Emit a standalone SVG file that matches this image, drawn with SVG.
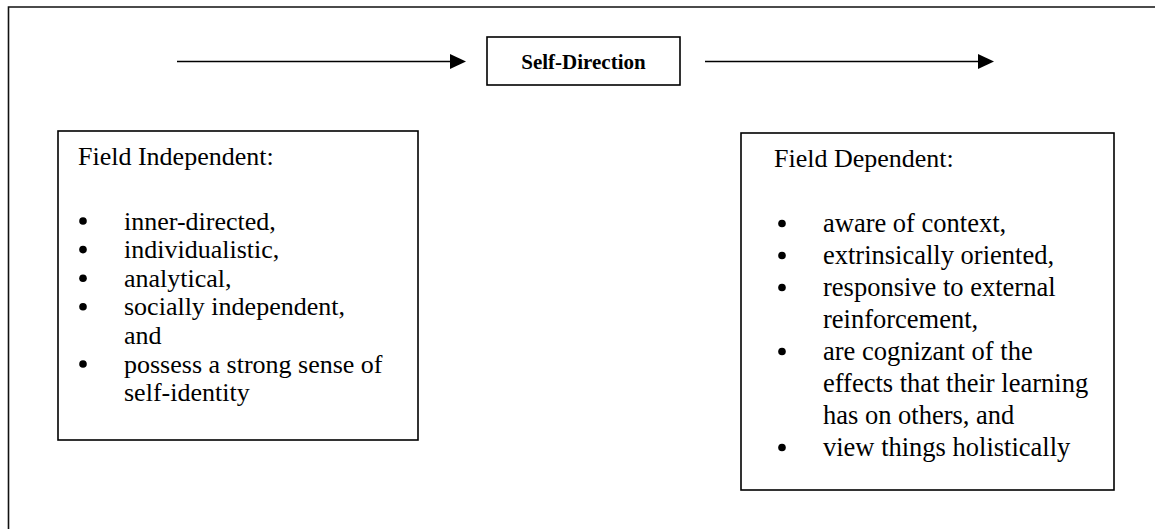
<svg xmlns="http://www.w3.org/2000/svg" width="1155" height="529" viewBox="0 0 1155 529">
<defs>
<style>
.box{fill:#fff;stroke:#000;stroke-width:1.6}
.t{font-family:"Liberation Serif","Times New Roman",serif;fill:#000}
.h{font-size:26px}
.b{font-size:26px}
.r{font-size:26.5px}
.bul{fill:#000}
.sd{font-family:"Liberation Serif","Times New Roman",serif;font-size:21px;font-weight:bold;fill:#000}
.line{stroke:#000;stroke-width:1.6;fill:none}
</style>
</defs>
<rect width="1155" height="529" fill="#fff"/>
<path d="M8.5,540 V7 H1165" fill="none" stroke="#111" stroke-width="1.6"/>
<g id="connectors">
<line class="line" x1="177" y1="61.5" x2="452" y2="61.5"/>
<path d="M450,54 L466,61.5 L450,69 Z" fill="#000"/>
<line class="line" x1="705" y1="61.5" x2="980" y2="61.5"/>
<path d="M978,54 L994,61.5 L978,69 Z" fill="#000"/>
</g>
<g id="self-direction">
<rect class="box" x="487" y="37" width="193" height="48"/>
<text class="sd" x="583.5" y="69" text-anchor="middle">Self-Direction</text>
</g>
<g id="field-independent">
<rect class="box" x="58" y="131" width="360" height="309"/>
<text class="t h" x="78" y="165">Field Independent:</text>
<g class="bul">
<circle cx="83" cy="221" r="3.8"/>
<circle cx="83" cy="249.6" r="3.8"/>
<circle cx="83" cy="278.2" r="3.8"/>
<circle cx="83" cy="306.8" r="3.8"/>
<circle cx="83" cy="364" r="3.8"/>
</g>
<g class="t b">
<text x="124" y="229.5">inner-directed,</text>
<text x="124" y="258.1">individualistic,</text>
<text x="124" y="286.7">analytical,</text>
<text x="124" y="315.3">socially independent,</text>
<text x="124" y="343.9">and</text>
<text x="124" y="372.5">possess a strong sense of</text>
<text x="124" y="401.1">self-identity</text>
</g>
</g>
<g id="field-dependent">
<rect class="box" x="741" y="133" width="373" height="357"/>
<text class="t h" x="774" y="167">Field Dependent:</text>
<g class="bul">
<circle cx="782" cy="223.5" r="3.8"/>
<circle cx="782" cy="255.5" r="3.8"/>
<circle cx="782" cy="287.5" r="3.8"/>
<circle cx="782" cy="351.5" r="3.8"/>
<circle cx="782" cy="447.5" r="3.8"/>
</g>
<g class="t r">
<text x="823" y="232">aware of context,</text>
<text x="823" y="264">extrinsically oriented,</text>
<text x="823" y="296">responsive to external</text>
<text x="823" y="328">reinforcement,</text>
<text x="823" y="360">are cognizant of the</text>
<text x="823" y="392">effects that their learning</text>
<text x="823" y="424">has on others, and</text>
<text x="823" y="456">view things holistically</text>
</g>
</g>
</svg>
